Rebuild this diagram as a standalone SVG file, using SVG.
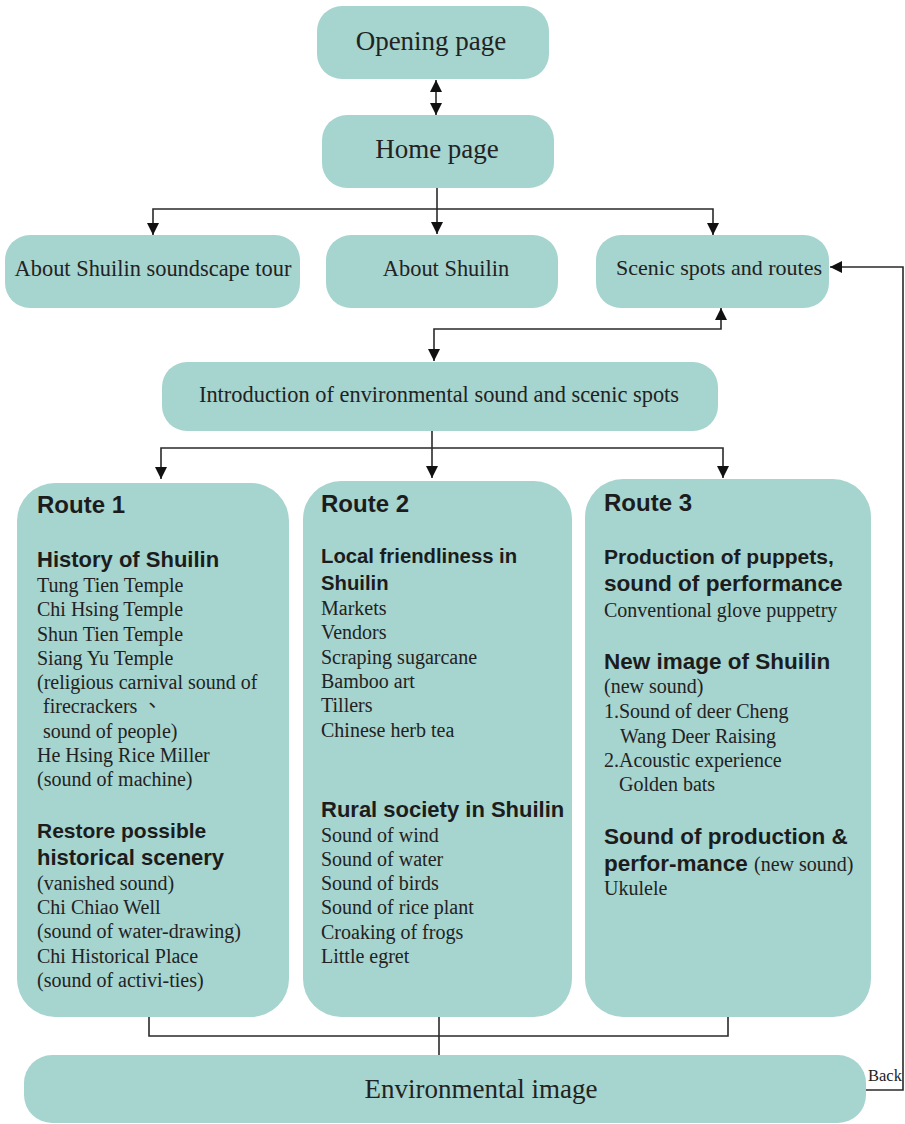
<svg xmlns="http://www.w3.org/2000/svg" width="905" height="1124" viewBox="0 0 905 1124">
<defs>
<style>
.box{fill:#a6d4cf;}
.t{font-family:"Liberation Serif","Times New Roman",serif;fill:#222;}
.big{font-size:27px;text-anchor:middle;}
.mid{font-size:22.4px;text-anchor:middle;}
.it{font-size:20px;}
.h{font-family:"Liberation Sans",Arial,sans-serif;font-weight:bold;fill:#1c1c1c;}
.rt{font-size:24px;}
.sh{font-size:22px;}
.cn{fill:none;stroke:#2a2a2a;stroke-width:1.6;}
</style>
<marker id="ah" viewBox="0 0 12 12" refX="12" refY="6" markerWidth="12" markerHeight="12" markerUnits="userSpaceOnUse" orient="auto-start-reverse">
<path d="M0,0 L12,6 L0,12 z" fill="#111"/>
</marker>
</defs>
<rect width="905" height="1124" fill="#ffffff"/>

<g id="connectors">
<path class="cn" d="M436,80 V115" marker-start="url(#ah)" marker-end="url(#ah)"/>
<path class="cn" d="M437,188 V234" marker-end="url(#ah)"/>
<path class="cn" d="M437,209 H153 V235" marker-end="url(#ah)"/>
<path class="cn" d="M437,209 H713 V235" marker-end="url(#ah)"/>
<path class="cn" d="M721,308 V329 H434 V361" marker-start="url(#ah)" marker-end="url(#ah)"/>
<path class="cn" d="M432,431 V478" marker-end="url(#ah)"/>
<path class="cn" d="M432,448 H161 V479" marker-end="url(#ah)"/>
<path class="cn" d="M432,448 H723 V478" marker-end="url(#ah)"/>
<path class="cn" d="M149,1017 V1036 H728 V1017"/>
<path class="cn" d="M439,1017 V1055"/>
<path class="cn" d="M866,1090 H903 V267 H830" marker-end="url(#ah)"/>
</g>

<g id="opening">
<rect class="box" x="317" y="6" width="232" height="73" rx="25"/>
<text class="t big" x="431" y="50">Opening page</text>
</g>

<g id="home">
<rect class="box" x="322" y="115" width="232" height="73" rx="25"/>
<text class="t big" x="437" y="158">Home page</text>
</g>

<g id="about-tour">
<rect class="box" x="5" y="235" width="295" height="73" rx="25"/>
<text class="t mid" x="153" y="276">About Shuilin soundscape tour</text>
</g>

<g id="about-shuilin">
<rect class="box" x="326" y="235" width="232" height="73" rx="25"/>
<text class="t mid" x="446" y="276">About Shuilin</text>
</g>

<g id="scenic">
<rect class="box" x="596" y="235" width="233" height="73" rx="25"/>
<text class="t mid" x="719" y="275" style="font-size:22px">Scenic spots and routes</text>
</g>

<g id="intro">
<rect class="box" x="162" y="362" width="556" height="69" rx="25"/>
<text class="t mid" x="439" y="402">Introduction of environmental sound and scenic spots</text>
</g>

<g id="route1">
<rect class="box" x="17" y="483" width="272" height="534" rx="38"/>
<text class="h rt" x="37" y="513">Route 1</text>
<text class="h sh" x="37" y="567">History of Shuilin</text>
<text class="t it" x="37" y="592">Tung Tien Temple</text>
<text class="t it" x="37" y="616">Chi Hsing Temple</text>
<text class="t it" x="37" y="641">Shun Tien Temple</text>
<text class="t it" x="37" y="665">Siang Yu Temple</text>
<text class="t it" x="37" y="689">(religious carnival sound of</text>
<text class="t it" x="43" y="713" style="font-family:'Liberation Serif','Noto Sans CJK TC',serif">firecrackers 、</text>
<text class="t it" x="43" y="738">sound of people)</text>
<text class="t it" x="37" y="762">He Hsing Rice Miller</text>
<text class="t it" x="37" y="786">(sound of machine)</text>
<text class="h sh" x="37" y="838" style="font-size:21px">Restore possible</text>
<text class="h sh" x="37" y="865">historical scenery</text>
<text class="t it" x="37" y="890">(vanished sound)</text>
<text class="t it" x="37" y="914">Chi Chiao Well</text>
<text class="t it" x="37" y="938">(sound of water-drawing)</text>
<text class="t it" x="37" y="963">Chi Historical Place</text>
<text class="t it" x="37" y="987">(sound of activi-ties)</text>
</g>

<g id="route2">
<rect class="box" x="303" y="481" width="269" height="536" rx="38"/>
<text class="h rt" x="321" y="512">Route 2</text>
<text class="h sh" x="321" y="563" style="font-size:20.3px">Local friendliness in</text>
<text class="h sh" x="321" y="590" style="font-size:20.3px">Shuilin</text>
<text class="t it" x="321" y="615">Markets</text>
<text class="t it" x="321" y="639">Vendors</text>
<text class="t it" x="321" y="664">Scraping sugarcane</text>
<text class="t it" x="321" y="688">Bamboo art</text>
<text class="t it" x="321" y="712">Tillers</text>
<text class="t it" x="321" y="737">Chinese herb tea</text>
<text class="h sh" x="321" y="817">Rural society in Shuilin</text>
<text class="t it" x="321" y="842">Sound of wind</text>
<text class="t it" x="321" y="866">Sound of water</text>
<text class="t it" x="321" y="890">Sound of birds</text>
<text class="t it" x="321" y="914">Sound of rice plant</text>
<text class="t it" x="321" y="939">Croaking of frogs</text>
<text class="t it" x="321" y="963">Little egret</text>
</g>

<g id="route3">
<rect class="box" x="585" y="479" width="286" height="538" rx="38"/>
<text class="h rt" x="604" y="511">Route 3</text>
<text class="h sh" x="604" y="564" style="font-size:21px">Production of puppets,</text>
<text class="h sh" x="604" y="591" style="font-size:22.6px">sound of performance</text>
<text class="t it" x="604" y="617">Conventional glove puppetry</text>
<text class="h sh" x="604" y="669" style="font-size:22.5px">New image of Shuilin</text>
<text class="t it" x="604" y="693">(new sound)</text>
<text class="t it" x="604" y="718">1.Sound of deer Cheng</text>
<text class="t it" x="620" y="743">Wang Deer Raising</text>
<text class="t it" x="604" y="767">2.Acoustic experience</text>
<text class="t it" x="619" y="791">Golden bats</text>
<text class="h sh" x="604" y="844" style="font-size:22.5px">Sound of production &amp;</text>
<text class="h sh" x="604" y="871" style="font-size:22.5px">perfor-mance <tspan class="t it" style="font-weight:normal">(new sound)</tspan></text>
<text class="t it" x="604" y="895">Ukulele</text>
</g>

<g id="environmental">
<rect class="box" x="24" y="1055" width="842" height="68" rx="28"/>
<text class="t big" x="481" y="1098">Environmental image</text>
</g>

<g id="back-label">
<text class="t" x="868" y="1081" style="font-size:16.5px">Back</text>
</g>
</svg>
